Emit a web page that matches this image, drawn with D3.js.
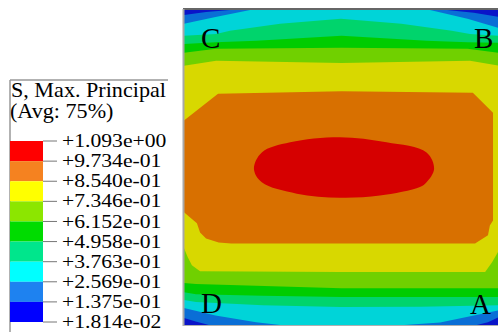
<!DOCTYPE html>
<html>
<head>
<meta charset="utf-8">
<script src="https://cdn.jsdelivr.net/npm/d3@7"></script>
<style>
  html, body { margin: 0; padding: 0; background: #fff; }
  svg { display: block; }
  text { font-family: "Liberation Serif", "Times New Roman", serif; fill: #000; }
</style>
</head>
<body>
<div id="chart"></div>
<script>
// contour levels of S, Max. Principal (top to bottom of the legend)
const levels = [1.093, 0.9734, 0.854, 0.7346, 0.6152, 0.4958, 0.3763, 0.2569, 0.1375, 0.01814];
const levelLabels = ['+1.093e+00', '+9.734e-01', '+8.540e-01', '+7.346e-01', '+6.152e-01',
  '+4.958e-01', '+3.763e-01', '+2.569e-01', '+1.375e-01', '+1.814e-02'];

// band colours, lowest band first
const legendColors = ['#0000ff', '#1e82f0', '#00ffff', '#00e68c', '#00dc00', '#8ce600', '#ffff00', '#f58220', '#ff0000'];
const bandColors = ['#0a14c8', '#0a6ed6', '#00d4d8', '#00d46c', '#00cc00', '#70d000', '#d8d800', '#d87000', '#d60000'];

// iso-regions on the plate (plate coords 0..100), each one is "value >= level"
const regionAzure = [[0, 98.4], [7, 99.4], [14.6, 100], [83.5, 100], [92, 99.1], [100, 97.8], [100, 2.5],
  [96.5, 0.9], [93, 0], [7.9, 0], [4, 1.0], [0, 2.2]];
const regionCyan = [[0, 95.6], [10, 97.8], [21, 100], [78.1, 100], [90, 97.2], [100, 94.3], [100, 4.7],
  [81.3, 0.8], [70, 0], [30.5, 0], [22.9, 0.9], [10, 3.0], [0, 5.4]];
const regionSpring = [[0, 91.8], [10.2, 92.4], [14.6, 93.4], [30.5, 95.6], [49.8, 97.2], [69, 95.6],
  [85, 93.4], [90.8, 92.4], [100, 91.8], [100, 6.3], [75, 5.8], [49.8, 5.7], [25, 6.3], [3.8, 7.3], [0, 7.9]];
const regionGreen = [[0, 89.2], [10, 89.8], [23, 90.2], [50, 91.8], [77, 90.2], [90, 89.8], [100, 89.6],
  [100, 8.9], [75, 8.9], [50, 8.9], [25, 9.3], [3.8, 9.8], [0, 10.4]];
const regionYellowGreen = [[0, 86.4], [10.2, 87.7], [50, 88.0], [90, 87.7], [100, 86.4],
  [100, 11.7], [50, 11.7], [3.8, 13.0], [0, 13.3]];
const regionYellow = [[0, 82.3], [10.2, 83.9], [50, 83.2], [90.8, 83.9], [100, 82.3], [100, 23.7],
  [97.8, 19.9], [95.6, 16.8], [50, 16.8], [5.1, 17.1], [2.5, 19.0], [1.2, 21.5], [0, 24.4]];
const regionOrange = [[0, 64.9], [10.8, 73.4], [50, 74.2], [91.7, 73.7], [98.1, 67.4], [98.1, 33.2],
  [97.1, 31.6], [96.5, 28.5], [92.4, 25.9], [50, 25.9], [15, 25.9], [11, 26.2], [7, 27.5],
  [5.1, 29.4], [4.1, 32.3], [0, 35.8]];
const regionRed = [[22.2, 49.6], [24.7, 54.8], [33.7, 58.0], [49.5, 59.6], [64.3, 58.0], [77.0, 54.8],
  [79.4, 49.6], [77.0, 45.3], [74.9, 43.8], [62.2, 41.1], [49.5, 40.4], [35.8, 41.7], [24.7, 45.3]];

// corner points of the plate
const cornerNames = ['C', 'B', 'D', 'A'];
const cornerPos = [[5.4, 88.0], [92.1, 88.0], [5.4, 3.8], [90.8, 3.5]];

const width = 498, height = 332;

const svg = d3.select('#chart')
  .append('svg')
  .attr('width', width)
  .attr('height', height);

// plate scales
const x = d3.scaleLinear().domain([0, 100]).range([184, 499]);
const y = d3.scaleLinear().domain([0, 100]).range([325, 10]);

svg.append('clipPath')
  .attr('id', 'plate-clip')
  .append('rect')
  .attr('x', x(0)).attr('y', y(100))
  .attr('width', x(100) - x(0)).attr('height', y(0) - y(100));

const plate = svg.append('g').attr('clip-path', 'url(#plate-clip)');

// lowest band fills the plate
plate.append('rect')
  .attr('x', x(0)).attr('y', y(100))
  .attr('width', x(100) - x(0)).attr('height', y(0) - y(100))
  .attr('fill', bandColors[0]);

const regions = [regionAzure, regionCyan, regionSpring, regionGreen, regionYellowGreen,
  regionYellow, regionOrange, regionRed];

const area = d3.line()
  .x(d => x(d[0]))
  .y(d => y(d[1]))
  .curve(d3.curveLinearClosed);

// the inner red spot is rounder, so smooth that one
const roundArea = d3.line()
  .x(d => x(d[0]))
  .y(d => y(d[1]))
  .curve(d3.curveCatmullRomClosed.alpha(0.5));

plate.selectAll('.iso-region')
  .data(regions)
  .join('path')
  .attr('class', 'iso-region')
  .attr('d', (d, i) => i === regions.length - 1 ? roundArea(d) : area(d))
  .attr('fill', (d, i) => bandColors[i + 1]);

// plate edges
svg.append('line')
  .attr('x1', x(0) - 1).attr('x2', width).attr('y1', 9).attr('y2', 9)
  .attr('stroke', '#333').attr('stroke-width', 1.6);
svg.append('line')
  .attr('x1', x(0) - 0.5).attr('x2', x(0) - 0.5).attr('y1', 9).attr('y2', y(0) + 1)
  .attr('stroke', '#a8a8a8').attr('stroke-width', 2);
svg.append('line')
  .attr('x1', x(0) - 1).attr('x2', width).attr('y1', y(0) + 0.5).attr('y2', y(0) + 0.5)
  .attr('stroke', '#b0b0b0').attr('stroke-width', 1);

// corner labels
svg.selectAll('.corner-label')
  .data(cornerNames)
  .join('text')
  .attr('class', 'corner-label')
  .attr('x', (d, i) => x(cornerPos[i][0]))
  .attr('y', (d, i) => y(cornerPos[i][1]))
  .style('font-size', '29px')
  .text(d => d);

// ---- legend ----
const legend = svg.append('g');

legend.append('line')
  .attr('x1', 10).attr('x2', 168).attr('y1', 80).attr('y2', 80)
  .attr('stroke', '#999').attr('stroke-width', 1.5);
legend.append('line')
  .attr('x1', 10).attr('x2', 10).attr('y1', 80).attr('y2', height)
  .attr('stroke', '#999').attr('stroke-width', 1.5);

legend.append('text')
  .attr('transform', 'translate(11,97) scale(1.08,1)')
  .style('font-size', '20.5px')
  .text('S, Max. Principal');
legend.append('text')
  .attr('transform', 'translate(10,118) scale(1.08,1)')
  .style('font-size', '20.5px')
  .text('(Avg: 75%)');

const ly = d3.scaleLinear()
  .domain([levels[levels.length - 1], levels[0]])
  .range([322, 141]);

// boxes, top (red) to bottom (blue)
legend.selectAll('.legend-box')
  .data(d3.range(levels.length - 1))
  .join('rect')
  .attr('class', 'legend-box')
  .attr('x', 10)
  .attr('width', 33)
  .attr('y', i => ly(levels[i]))
  .attr('height', i => ly(levels[i + 1]) - ly(levels[i]))
  .attr('fill', i => legendColors[legendColors.length - 1 - i]);

legend.selectAll('.legend-tick')
  .data(levels)
  .join('line')
  .attr('class', 'legend-tick')
  .attr('x1', 43).attr('x2', 57)
  .attr('y1', d => ly(d)).attr('y2', d => ly(d))
  .attr('stroke', '#777').attr('stroke-width', 1);

legend.selectAll('.legend-label')
  .data(levels)
  .join('text')
  .attr('class', 'legend-label')
  .attr('transform', d => `translate(62,${ly(d)}) scale(1.14,1)`)
  .attr('dy', '0.32em')
  .style('font-size', '19px')
  .text((d, i) => levelLabels[i]);
</script>
</body>
</html>
